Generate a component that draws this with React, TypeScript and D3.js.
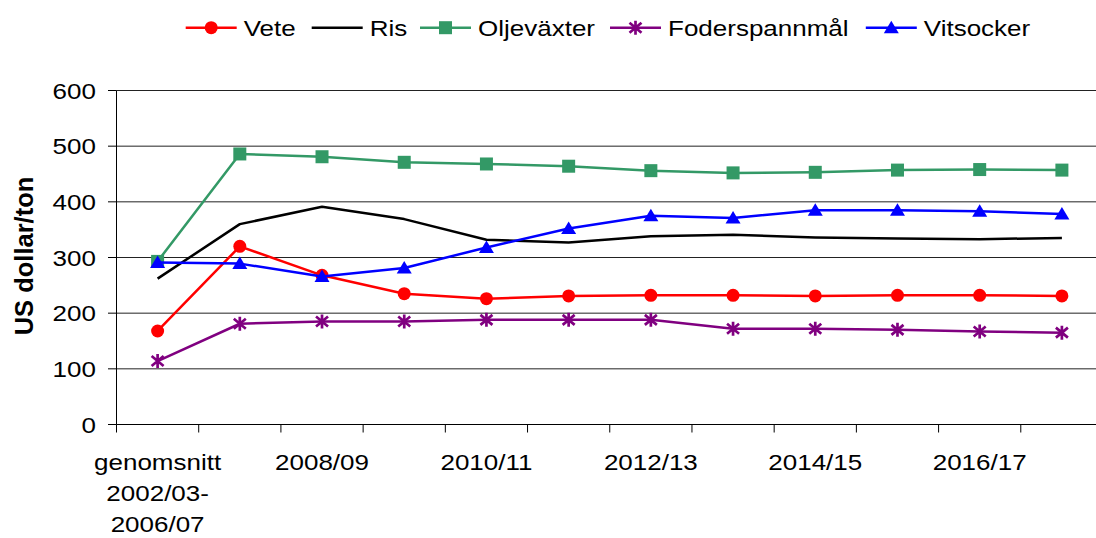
import React from "react";
import * as d3 from "d3";

const categories = [
  "genomsnitt\n2002/03-\n2006/07",
  "2007/08",
  "2008/09",
  "2009/10",
  "2010/11",
  "2011/12",
  "2012/13",
  "2013/14",
  "2014/15",
  "2015/16",
  "2016/17",
  "2017/18",
];
const shownLabelIndices = [0, 2, 4, 6, 8, 10];

const vete = [168, 320, 268, 235, 226, 231, 232, 232, 231, 232, 232, 231];
const ris = [262, 360, 391, 369, 332, 327, 338, 341, 336, 334, 333, 335];
const oljevaxter = [293, 486, 481, 471, 468, 464, 456, 452, 453, 457, 458, 457];
const foderspannmal = [114, 181, 185, 185, 188, 188, 188, 172, 172, 170, 167, 165];
const vitsocker = [291, 289, 266, 281, 318, 352, 375, 371, 385, 385, 383, 378];

const yTicks = [0, 100, 200, 300, 400, 500, 600];
const yTitle = "US dollar/ton";

type Marker = "circle" | "none" | "square" | "star" | "triangle";
const series: { name: string; values: number[]; color: string; marker: Marker }[] = [
  { name: "Vete", values: vete, color: "#FF0000", marker: "circle" },
  { name: "Ris", values: ris, color: "#000000", marker: "none" },
  { name: "Oljeväxter", values: oljevaxter, color: "#339966", marker: "square" },
  { name: "Foderspannmål", values: foderspannmal, color: "#800080", marker: "star" },
  { name: "Vitsocker", values: vitsocker, color: "#0000FF", marker: "triangle" },
];

const W = 1096;
const H = 538;
const FONT = "Arial, 'Liberation Sans', sans-serif";
const FS = 26;
const SY = 0.87;

const legendX = [185.7, 311.7, 420, 610, 865.8];

function MarkerShape({ type, x, y, color }: { type: Marker; x: number; y: number; color: string }) {
  if (type === "circle") return <circle cx={x} cy={y} r={6.5} fill={color} />;
  if (type === "square") return <rect x={x - 6.5} y={y - 6.5} width={13} height={13} fill={color} />;
  if (type === "triangle")
    return <polygon points={`${x},${y - 7} ${x + 7.5},${y + 5.5} ${x - 7.5},${y + 5.5}`} fill={color} />;
  if (type === "star")
    return (
      <path
        d={`M${x},${y - 7}L${x},${y + 7}M${x - 6},${y - 5}L${x + 6},${y + 5}M${x - 6},${y + 5}L${x + 6},${y - 5}`}
        stroke={color}
        strokeWidth={2.7}
        fill="none"
      />
    );
  return null;
}

function SText({ x, y, anchor, children, weight }: any) {
  return (
    <text
      transform={`translate(${x},${y}) scale(1,${SY})`}
      textAnchor={anchor || "start"}
      fontFamily={FONT}
      fontSize={FS}
      fontWeight={weight || "normal"}
      fill="#000"
    >
      {children}
    </text>
  );
}

export default function App() {
  const x = d3.scaleBand<string>().domain(categories).range([116.5, 1103]).padding(0);
  const y = d3.scaleLinear().domain([0, 600]).range([424.5, 90.5]);
  const cx = (i: number) => (x(categories[i]) as number) + x.bandwidth() / 2;
  const line = d3
    .line<number>()
    .x((_, i) => cx(i))
    .y((d) => y(d));
  const [x0, x1] = x.range();
  const boundaries = categories.map((c) => x(c) as number).concat([x1]);

  return (
    <svg
      width={W}
      height={H}
      viewBox={`0 0 ${W} ${H}`}
      style={{ position: "absolute", left: 0, top: 0, background: "#fff" }}
    >
      <rect x={0} y={0} width={W} height={H} fill="#fff" />
      {yTicks
        .filter((t) => t > 0)
        .map((t) => (
          <line key={"g" + t} x1={x0} x2={x1} y1={y(t)} y2={y(t)} stroke="#222" strokeWidth={1} />
        ))}
      <line x1={x0} x2={x0} y1={y(600)} y2={y(0)} stroke="#000" strokeWidth={1} />
      {yTicks.map((t) => (
        <g key={"yt" + t}>
          <line x1={x0 - 8.5} x2={x0} y1={y(t)} y2={y(t)} stroke="#000" strokeWidth={1} />
          <SText x={96} y={y(t) + 8} anchor="end">
            {String(t)}
          </SText>
        </g>
      ))}
      <line x1={x0} x2={x1} y1={y(0)} y2={y(0)} stroke="#000" strokeWidth={1} />
      {boundaries.map((b, i) => (
        <line key={"xt" + i} x1={b} x2={b} y1={y(0)} y2={y(0) + 8} stroke="#000" strokeWidth={1} />
      ))}
      {shownLabelIndices.map((i) =>
        categories[i].split("\n").map((ln, j) => (
          <SText key={"xl" + i + "-" + j} x={cx(i)} y={470 + j * 31} anchor="middle">
            {ln}
          </SText>
        ))
      )}
      <text
        transform={`translate(33,256) rotate(-90)`}
        textAnchor="middle"
        fontFamily={FONT}
        fontSize={25.5}
        fontWeight="bold"
        fill="#000"
      >
        {yTitle}
      </text>
      {series.map((s) => (
        <g key={s.name}>
          <path d={line(s.values) || ""} fill="none" stroke={s.color} strokeWidth={2.5} strokeLinejoin="round" />
          {s.values.map((v, i) => (
            <MarkerShape key={i} type={s.marker} x={cx(i)} y={y(v)} color={s.color} />
          ))}
        </g>
      ))}
      {series.map((s, k) => (
        <g key={"lg" + s.name}>
          <line x1={legendX[k]} x2={legendX[k] + 51} y1={27.7} y2={27.7} stroke={s.color} strokeWidth={2.5} />
          <MarkerShape type={s.marker} x={legendX[k] + 25.5} y={27.7} color={s.color} />
          <SText x={legendX[k] + 58} y={35.7}>
            {s.name}
          </SText>
        </g>
      ))}
    </svg>
  );
}
